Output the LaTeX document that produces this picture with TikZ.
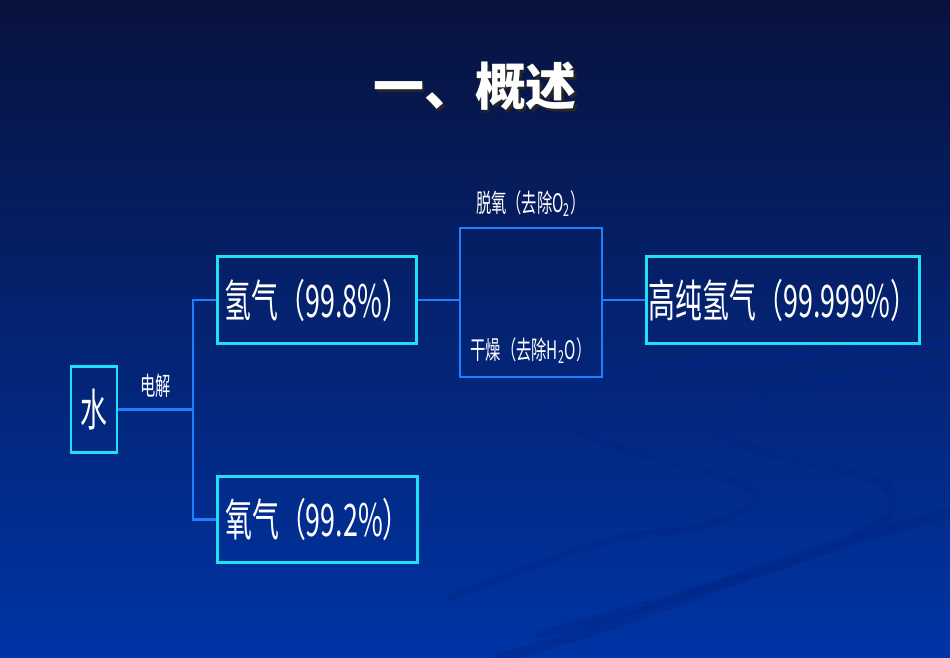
\documentclass[tikz,border=0pt]{standalone}
\usepackage{fontspec}
\usepackage{tikz}
\usetikzlibrary{positioning}

\newfontfamily\cnfont[FakeStretch=0.6]{Noto Sans CJK SC}
\newfontfamily\titlefont{Noto Sans CJK SC}

\definecolor{bgtop}{RGB}{8,18,62}
\definecolor{bgmid}{RGB}{3,42,142}
\definecolor{bgbot}{RGB}{0,52,165}
\definecolor{swoosh}{RGB}{0,38,135}
\definecolor{boxcyan}{RGB}{30,225,245}
\definecolor{linkblue}{RGB}{30,128,255}

\newcommand{\shadowtext}[1]{\leavevmode\rlap{\kern1.5pt\raisebox{-1.5pt}{\color{black!85}#1}}#1}

\begin{document}
\begin{tikzpicture}[
    x=0.02cm, y=-0.02cm,
    box/.style={rectangle, draw=boxcyan, line width=1.7pt, text=white, font=\cnfont\fontsize{25.5}{28}\selectfont, inner sep=0pt},
    purifybox/.style={rectangle, draw=linkblue, line width=1.5pt, inner sep=0pt, minimum width=2.84cm, minimum height=2.98cm},
    link/.style={draw=linkblue, line width=1.5pt},
    lbl/.style={text=white, font=\cnfont\fontsize{14.5}{16}\selectfont, inner sep=0pt},
    swirl/.style={swoosh, opacity=0.45, line cap=round}
]

% Background
\useasboundingbox (0,0) rectangle (950,658);
\shade[top color=bgtop, middle color=bgmid, bottom color=bgbot] (0,0) rectangle (950,658);
\draw[swirl, line width=4pt]
    plot[smooth, tension=0.7] coordinates {(450,598) (600,543) (700,527) (753,503) (747,487) (700,470) (617,447) (557,420) (560,397) (617,373) (733,360) (950,343)};
\draw[swirl, line width=5pt]
    plot[smooth, tension=0.7] coordinates {(540,635) (767,570) (867,530) (893,503) (867,477) (767,453) (717,433)};
\draw[swirl, line width=4pt]
    plot[smooth, tension=0.7] coordinates {(745,410) (783,390) (867,375) (950,362)};
\draw[swirl, line width=6pt]
    plot[smooth, tension=0.6] coordinates {(950,512) (800,557) (600,628) (500,658)};

% Title
\node[text=white, font=\titlefont\bfseries\fontsize{29}{34}\selectfont] (title) at (475,88) {\shadowtext{一、概述}};

% Nodes
\node[box, minimum width=0.92cm, minimum height=1.74cm] (water) at (94,409.5) {水};
\node[box, minimum width=4cm, minimum height=1.76cm] (hydrogen) at (317,300) {氢气（99.8\%）};
\node[box, minimum width=4.02cm, minimum height=1.74cm] (oxygen) at (317.5,519.5) {氧气（99.2\%）};
\node[purifybox] (purify) at (531,302.5) {};
\node[box, minimum width=5.48cm, minimum height=1.76cm] (pure) at (783,300) {高纯氢气（99.999\%）};

\node[lbl, above=0.2cm of purify] (deoxy) {脱氧（去除O\textsubscript{2}）};
\node[lbl, above=0.28cm of purify.south] (dry) {干燥（去除H\textsubscript{2}O）};

% Arrows
\coordinate (split) at (193,409.5);
\draw[link] (water.east) -- node[lbl, above=0.22cm] (elec) {电解} (split);
\draw[link] (split) |- (hydrogen.west);
\draw[link] (split) |- (oxygen.west);
\draw[link] (hydrogen.east) -- (hydrogen.east -| purify.west);
\draw[link] (hydrogen.east -| purify.east) -- (pure.west);

\end{tikzpicture}
\end{document}
